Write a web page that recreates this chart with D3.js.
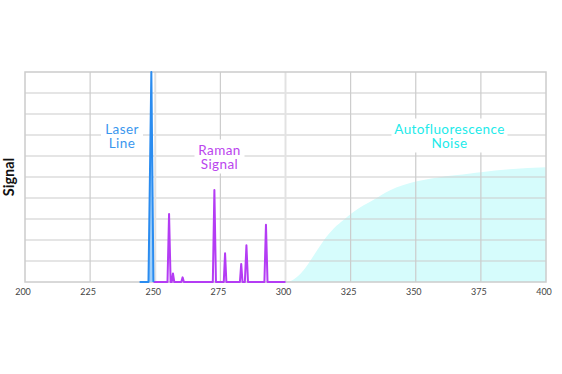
<!DOCTYPE html>
<html>
<head>
<meta charset="utf-8">
<script src="https://cdn.jsdelivr.net/npm/d3@7"></script>
<style>
  body { margin: 0; background: #fff; }
  text { font-family: Lato, 'Open Sans', sans-serif; }
</style>
</head>
<body>
<svg width="562" height="374"></svg>
<script>
// wavelength ticks and signal data
const xTicks = [200, 225, 250, 275, 300, 325, 350, 375, 400]
const laserX = [244, 247.4, 248.5, 249.3]
const laserY = [0, 0, 10, 0]
const ramanX = [249.3, 254.7, 255.3, 255.9, 256.3, 256.8, 257.3, 260.0, 260.5, 261.0,
                272.1, 272.7, 273.3, 276.3, 276.8, 277.3, 282.5, 283.0, 283.5,
                284.4, 285.0, 285.6, 291.9, 292.5, 293.1, 300]
const ramanY = [0, 0, 3.24, 0, 0, 0.41, 0, 0, 0.22, 0,
                0, 4.38, 0, 0, 1.37, 0, 0, 0.86, 0,
                0, 1.75, 0, 0, 2.73, 0, 0]
const fluorX = [300, 302, 304.5, 307, 309.7, 312.2, 314.8, 318.6, 322.5, 325.4, 330, 334, 340, 350, 358, 365, 371, 375, 386, 400]
const fluorY = [0, 0.05, 0.25, 0.57, 1.05, 1.52, 2.0, 2.56, 2.98, 3.27, 3.65, 3.93, 4.36, 4.78, 4.97, 5.08, 5.17, 5.23, 5.37, 5.46]

const svg = d3.select('svg')
const plotL = 25, plotR = 546, plotT = 72, plotB = 282

const x = d3.scaleLinear().domain([200, 400]).range([plotL, plotR])
const y = d3.scaleLinear().domain([0, 10]).range([plotB, plotT])

const zip = (xs, ys) => xs.map((v, i) => [v, ys[i]])

// autofluorescence fill (under the grid)
svg.append('path')
  .datum(zip(fluorX, fluorY))
  .attr('fill', '#d6fcfc')
  .attr('d', d3.area().x(d => x(d[0])).y0(y(0)).y1(d => y(d[1])).curve(d3.curveMonotoneX))

// grid
const grid = svg.append('g')
grid.selectAll('line.h')
  .data(d3.range(1, 10))
  .join('line')
  .attr('class', 'h')
  .attr('x1', plotL).attr('x2', plotR)
  .attr('y1', d => y(d)).attr('y2', d => y(d))
  .attr('stroke', '#cccccc').attr('stroke-width', 1.2)
grid.selectAll('line.v')
  .data(xTicks.slice(1, -1))
  .join('line')
  .attr('class', 'v')
  .attr('x1', d => x(d)).attr('x2', d => x(d))
  .attr('y1', plotT).attr('y2', plotB)
  .attr('stroke', d => (d === 250 || d === 300) ? '#e2e2e2' : '#cccccc')
  .attr('stroke-width', d => (d === 250 || d === 300) ? 2 : 1.2)
svg.append('rect')
  .attr('x', plotL).attr('y', plotT)
  .attr('width', plotR - plotL).attr('height', plotB - plotT)
  .attr('fill', 'none').attr('stroke', '#cccccc').attr('stroke-width', 1.5)

// tick labels
svg.append('g').selectAll('text')
  .data(xTicks)
  .join('text')
  .attr('x', d => x(d) - 2)
  .attr('y', 295)
  .attr('text-anchor', 'middle')
  .attr('font-size', 9)
  .attr('fill', '#444')
  .text(d => d)

const line = d3.line().x(d => x(d[0])).y(d => y(d[1]))

// raman peaks
svg.append('path')
  .datum(zip(ramanX, ramanY))
  .attr('fill', 'none')
  .attr('stroke', '#b43cf4')
  .attr('stroke-width', 2)
  .attr('stroke-linejoin', 'round')
  .attr('d', line)

// laser line
svg.append('path')
  .datum(zip(laserX, laserY))
  .attr('fill', '#9fd0fb')
  .attr('stroke', '#2a8cf0')
  .attr('stroke-width', 2)
  .attr('stroke-linejoin', 'round')
  .attr('d', line)

// labels with white boxes
function label(lines, cx, cy, color, w) {
  const g = svg.append('g')
  g.append('rect')
    .attr('x', cx - w / 2).attr('y', cy - 10)
    .attr('width', w).attr('height', 34)
    .attr('fill', '#fff')
  lines.forEach((t, i) => {
    g.append('text')
      .attr('x', cx).attr('y', cy + i * 14.5)
      .attr('text-anchor', 'middle')
      .attr('dominant-baseline', 'central')
      .attr('font-size', 13.5)
      .attr('letter-spacing', 0.4)
      .attr('fill', color)
      .text(t)
  })
}
label(['Laser', 'Line'], 122, 128.5, '#3a97ee', 42)
label(['Raman', 'Signal'], 219.5, 149.5, '#bb44ee', 50)
label(['Autofluorescence', 'Noise'], 449.5, 128.5, '#22eaea', 116)

svg.append('text')
  .attr('transform', 'translate(8,177) rotate(-90)')
  .attr('text-anchor', 'middle')
  .attr('dominant-baseline', 'central')
  .attr('font-size', 14.5)
  .attr('font-weight', 'bold')
  .attr('fill', '#111')
  .text('Signal')
</script>
</body>
</html>
